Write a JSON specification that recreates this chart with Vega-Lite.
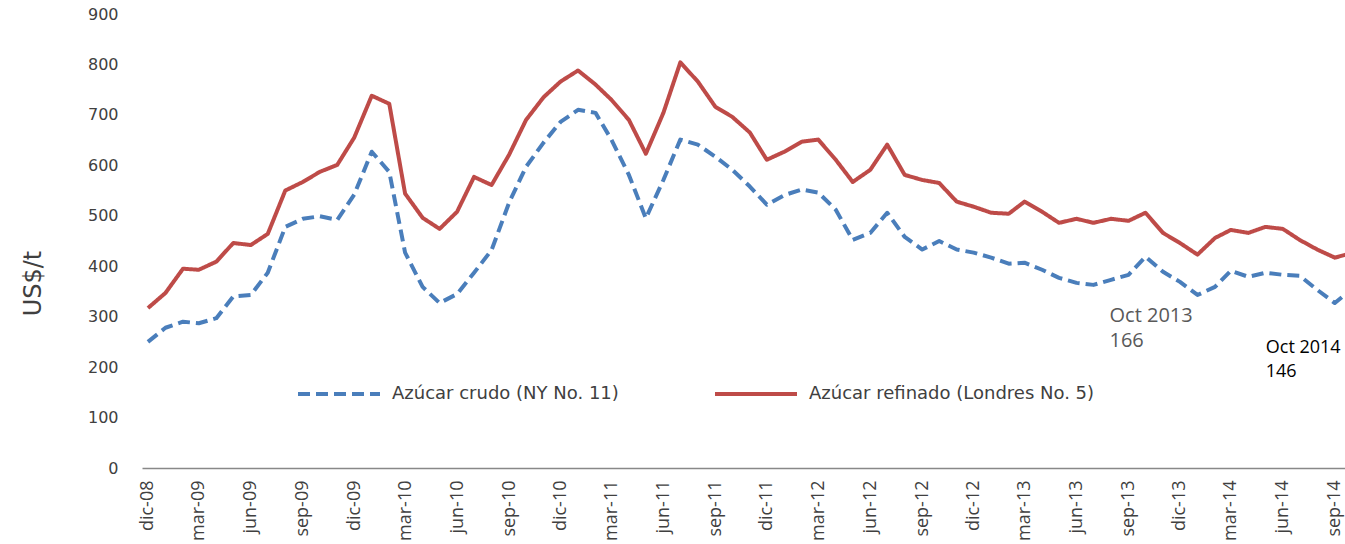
{
  "$schema": "https://vega.github.io/schema/vega-lite/v6.json",
  "width": 1203,
  "height": 454,
  "autosize": {"type": "none"},
  "padding": {"left": 142, "top": 14, "right": 0, "bottom": 76},
  "background": "white",
  "config": {"view": {"stroke": null}, "font": "Open Sans"},
  "layer": [
    {
      "data": {
        "values": [
          {"month": "2008-12-01", "crudo": 250, "refinado": 317},
          {"month": "2009-01-01", "crudo": 278, "refinado": 347},
          {"month": "2009-02-01", "crudo": 290, "refinado": 395},
          {"month": "2009-03-01", "crudo": 287, "refinado": 393},
          {"month": "2009-04-01", "crudo": 297, "refinado": 409},
          {"month": "2009-05-01", "crudo": 340, "refinado": 446},
          {"month": "2009-06-01", "crudo": 343, "refinado": 442},
          {"month": "2009-07-01", "crudo": 387, "refinado": 464},
          {"month": "2009-08-01", "crudo": 478, "refinado": 550},
          {"month": "2009-09-01", "crudo": 494, "refinado": 567},
          {"month": "2009-10-01", "crudo": 499, "refinado": 587},
          {"month": "2009-11-01", "crudo": 492, "refinado": 601},
          {"month": "2009-12-01", "crudo": 542, "refinado": 655},
          {"month": "2010-01-01", "crudo": 627, "refinado": 738},
          {"month": "2010-02-01", "crudo": 587, "refinado": 722},
          {"month": "2010-03-01", "crudo": 427, "refinado": 544},
          {"month": "2010-04-01", "crudo": 359, "refinado": 496},
          {"month": "2010-05-01", "crudo": 327, "refinado": 474},
          {"month": "2010-06-01", "crudo": 345, "refinado": 508},
          {"month": "2010-07-01", "crudo": 387, "refinado": 577},
          {"month": "2010-08-01", "crudo": 432, "refinado": 561},
          {"month": "2010-09-01", "crudo": 526, "refinado": 621},
          {"month": "2010-10-01", "crudo": 597, "refinado": 690},
          {"month": "2010-11-01", "crudo": 645, "refinado": 735},
          {"month": "2010-12-01", "crudo": 686, "refinado": 766},
          {"month": "2011-01-01", "crudo": 710, "refinado": 788},
          {"month": "2011-02-01", "crudo": 704, "refinado": 760},
          {"month": "2011-03-01", "crudo": 651, "refinado": 730},
          {"month": "2011-04-01", "crudo": 581, "refinado": 690},
          {"month": "2011-05-01", "crudo": 495, "refinado": 623},
          {"month": "2011-06-01", "crudo": 571, "refinado": 704},
          {"month": "2011-07-01", "crudo": 651, "refinado": 804},
          {"month": "2011-08-01", "crudo": 641, "refinado": 766},
          {"month": "2011-09-01", "crudo": 617, "refinado": 716},
          {"month": "2011-10-01", "crudo": 591, "refinado": 696},
          {"month": "2011-11-01", "crudo": 558, "refinado": 665},
          {"month": "2011-12-01", "crudo": 522, "refinado": 611},
          {"month": "2012-01-01", "crudo": 541, "refinado": 627},
          {"month": "2012-02-01", "crudo": 552, "refinado": 647},
          {"month": "2012-03-01", "crudo": 546, "refinado": 651},
          {"month": "2012-04-01", "crudo": 512, "refinado": 611},
          {"month": "2012-05-01", "crudo": 452, "refinado": 567},
          {"month": "2012-06-01", "crudo": 466, "refinado": 591},
          {"month": "2012-07-01", "crudo": 506, "refinado": 641},
          {"month": "2012-08-01", "crudo": 458, "refinado": 581},
          {"month": "2012-09-01", "crudo": 433, "refinado": 571},
          {"month": "2012-10-01", "crudo": 450, "refinado": 565},
          {"month": "2012-11-01", "crudo": 433, "refinado": 528},
          {"month": "2012-12-01", "crudo": 427, "refinado": 518},
          {"month": "2013-01-01", "crudo": 417, "refinado": 506},
          {"month": "2013-02-01", "crudo": 405, "refinado": 504},
          {"month": "2013-03-01", "crudo": 407, "refinado": 528},
          {"month": "2013-04-01", "crudo": 393, "refinado": 508},
          {"month": "2013-05-01", "crudo": 377, "refinado": 486},
          {"month": "2013-06-01", "crudo": 367, "refinado": 494},
          {"month": "2013-07-01", "crudo": 363, "refinado": 486},
          {"month": "2013-08-01", "crudo": 373, "refinado": 494},
          {"month": "2013-09-01", "crudo": 383, "refinado": 490},
          {"month": "2013-10-01", "crudo": 419, "refinado": 506},
          {"month": "2013-11-01", "crudo": 389, "refinado": 466},
          {"month": "2013-12-01", "crudo": 369, "refinado": 446},
          {"month": "2014-01-01", "crudo": 343, "refinado": 423},
          {"month": "2014-02-01", "crudo": 359, "refinado": 456},
          {"month": "2014-03-01", "crudo": 391, "refinado": 472},
          {"month": "2014-04-01", "crudo": 379, "refinado": 466},
          {"month": "2014-05-01", "crudo": 387, "refinado": 478},
          {"month": "2014-06-01", "crudo": 383, "refinado": 474},
          {"month": "2014-07-01", "crudo": 381, "refinado": 452},
          {"month": "2014-08-01", "crudo": 353, "refinado": 433},
          {"month": "2014-09-01", "crudo": 327, "refinado": 417},
          {"month": "2014-10-01", "crudo": 355, "refinado": 426}
        ]
      },
      "transform": [{"fold": ["crudo", "refinado"], "as": ["serie", "precio"]}],
      "mark": {"type": "line", "strokeWidth": 4, "clip": true, "strokeJoin": "round", "strokeCap": "butt"},
      "encoding": {
        "x": {
          "field": "month",
          "type": "temporal",
          "scale": {
            "type": "utc",
            "domain": [
              {"year": 2008, "month": 11, "date": 20, "hours": 12, "utc": true},
              {"year": 2014, "month": 9, "date": 19, "utc": true}
            ]
          },
          "axis": {
            "title": null,
            "values": [
              {"year": 2008, "month": 12, "date": 1, "utc": true},
              {"year": 2009, "month": 3, "date": 1, "utc": true},
              {"year": 2009, "month": 6, "date": 1, "utc": true},
              {"year": 2009, "month": 9, "date": 1, "utc": true},
              {"year": 2009, "month": 12, "date": 1, "utc": true},
              {"year": 2010, "month": 3, "date": 1, "utc": true},
              {"year": 2010, "month": 6, "date": 1, "utc": true},
              {"year": 2010, "month": 9, "date": 1, "utc": true},
              {"year": 2010, "month": 12, "date": 1, "utc": true},
              {"year": 2011, "month": 3, "date": 1, "utc": true},
              {"year": 2011, "month": 6, "date": 1, "utc": true},
              {"year": 2011, "month": 9, "date": 1, "utc": true},
              {"year": 2011, "month": 12, "date": 1, "utc": true},
              {"year": 2012, "month": 3, "date": 1, "utc": true},
              {"year": 2012, "month": 6, "date": 1, "utc": true},
              {"year": 2012, "month": 9, "date": 1, "utc": true},
              {"year": 2012, "month": 12, "date": 1, "utc": true},
              {"year": 2013, "month": 3, "date": 1, "utc": true},
              {"year": 2013, "month": 6, "date": 1, "utc": true},
              {"year": 2013, "month": 9, "date": 1, "utc": true},
              {"year": 2013, "month": 12, "date": 1, "utc": true},
              {"year": 2014, "month": 3, "date": 1, "utc": true},
              {"year": 2014, "month": 6, "date": 1, "utc": true},
              {"year": 2014, "month": 9, "date": 1, "utc": true}
            ],
            "labelExpr": "['ene','feb','mar','abr','may','jun','jul','ago','sep','oct','nov','dic'][utcmonth(datum.value)] + '-' + utcFormat(datum.value, '%y')",
            "labelAngle": -90,
            "labelFont": "Open Sans",
            "labelFontSize": 18,
            "labelColor": "#404040",
            "labelPadding": 12,
            "labelOverlap": false,
            "labelBound": false,
            "labelFlush": false,
            "ticks": false,
            "tickSize": 0,
            "grid": false,
            "domainColor": "#888888",
            "domainWidth": 1.3
          }
        },
        "y": {
          "field": "precio",
          "type": "quantitative",
          "scale": {"domain": [0, 900], "nice": false},
          "axis": {
            "title": "US$/t",
            "values": [0, 100, 200, 300, 400, 500, 600, 700, 800, 900],
            "grid": false,
            "domain": false,
            "ticks": false,
            "tickSize": 0,
            "labelPadding": 24,
            "labelFont": "DejaVu Sans",
            "labelFontSize": 16,
            "labelColor": "#404040",
            "titleFont": "DejaVu Sans",
            "titleFontSize": 24,
            "titleFontWeight": "normal",
            "titleColor": "#404040",
            "titleAngle": -90,
            "titleX": -109,
            "titleY": 269,
            "titleAlign": "center",
            "titleBaseline": "middle"
          }
        },
        "color": {
          "field": "serie",
          "type": "nominal",
          "scale": {"domain": ["crudo", "refinado"], "range": ["#4A7EBB", "#BE4B48"]},
          "legend": {
            "title": null,
            "orient": "none",
            "legendX": 154,
            "legendY": 337,
            "direction": "horizontal",
            "symbolType": "stroke",
            "symbolSize": 6724,
            "symbolStrokeWidth": 4,
            "labelFont": "DejaVu Sans",
            "labelFontSize": 18,
            "labelColor": "#404040",
            "labelOffset": 10,
            "columnPadding": 88,
            "labelLimit": 400,
            "labelExpr": "datum.label == 'crudo' ? 'Azúcar crudo (NY No. 11)' : 'Azúcar refinado (Londres No. 5)'"
          }
        },
        "strokeDash": {
          "field": "serie",
          "type": "nominal",
          "scale": {"domain": ["crudo", "refinado"], "range": [[12, 6], [1, 0]]},
          "legend": {
            "title": null,
            "orient": "none",
            "legendX": 154,
            "legendY": 337,
            "direction": "horizontal",
            "symbolType": "stroke",
            "symbolSize": 6724,
            "symbolStrokeWidth": 4,
            "labelFont": "DejaVu Sans",
            "labelFontSize": 18,
            "labelColor": "#404040",
            "labelOffset": 10,
            "columnPadding": 88,
            "labelLimit": 400,
            "labelExpr": "datum.label == 'crudo' ? 'Azúcar crudo (NY No. 11)' : 'Azúcar refinado (Londres No. 5)'"
          }
        }
      }
    },
    {
      "data": {"values": [{}]},
      "mark": {"type": "text", "align": "left", "baseline": "alphabetic", "font": "Open Sans", "fontSize": 20, "color": "#595959", "lineHeight": 25, "dx": -36, "text": ["Oct 2013", "166"]},
      "encoding": {
        "x": {"datum": {"year": 2013, "month": 10, "date": 1, "utc": true}, "type": "temporal"},
        "y": {"datum": 290, "type": "quantitative"}
      }
    },
    {
      "data": {"values": [{}]},
      "mark": {"type": "text", "align": "left", "baseline": "alphabetic", "font": "Open Sans", "fontSize": 18, "color": "#000000", "lineHeight": 24, "dx": -86, "text": ["Oct 2014", "146"]},
      "encoding": {
        "x": {"datum": {"year": 2014, "month": 10, "date": 1, "utc": true}, "type": "temporal"},
        "y": {"datum": 228, "type": "quantitative"}
      }
    }
  ]
}
